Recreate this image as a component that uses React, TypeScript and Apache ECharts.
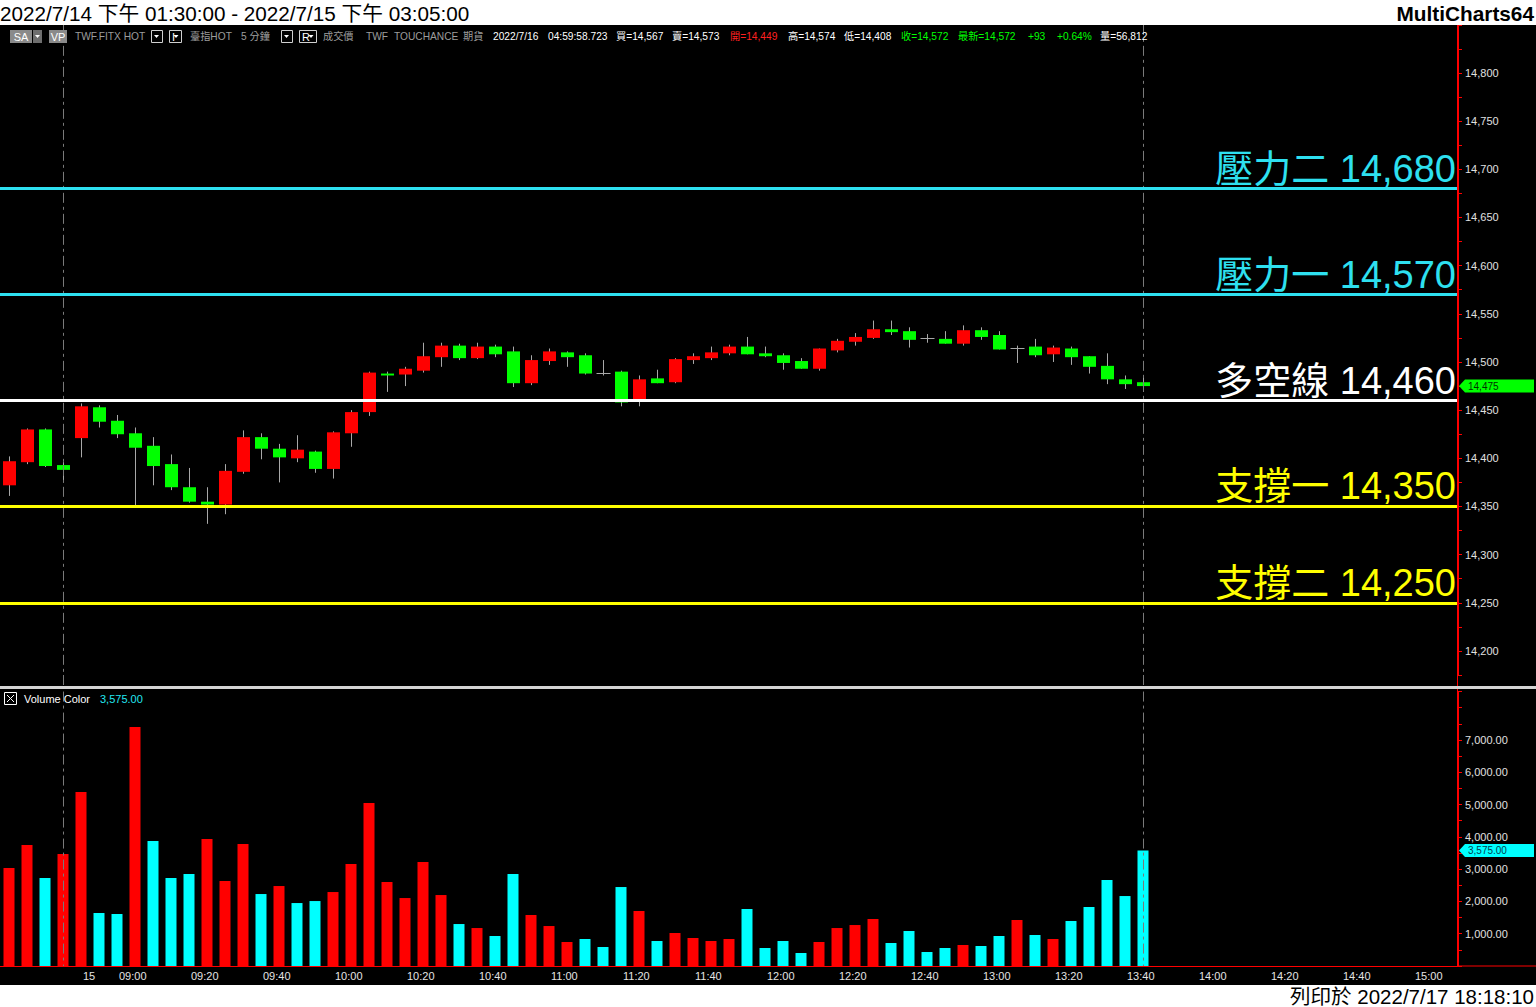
import React, { useEffect, useRef } from "react";
import * as echarts from "echarts";

// ---------- DATA ----------
const categories = [
  "7/14 13:30", "7/14 13:35", "7/14 13:40", "7/14 13:45",
  "08:50", "08:55",
  "09:00", "09:05", "09:10", "09:15", "09:20", "09:25", "09:30", "09:35", "09:40", "09:45", "09:50", "09:55",
  "10:00", "10:05", "10:10", "10:15", "10:20", "10:25", "10:30", "10:35", "10:40", "10:45", "10:50", "10:55",
  "11:00", "11:05", "11:10", "11:15", "11:20", "11:25", "11:30", "11:35", "11:40", "11:45", "11:50", "11:55",
  "12:00", "12:05", "12:10", "12:15", "12:20", "12:25", "12:30", "12:35", "12:40", "12:45", "12:50", "12:55",
  "13:00", "13:05", "13:10", "13:15", "13:20", "13:25", "13:30", "13:35", "13:40", "13:45", "13:50", "13:55",
  "14:00", "14:05", "14:10", "14:15", "14:20", "14:25", "14:30", "14:35", "14:40", "14:45", "14:50", "14:55",
  "15:00", "15:05", "15:10",
];

const opens = [
  14372, 14396, 14430, 14393, 14421, 14453, 14439, 14426, 14413, 14394, 14370, 14355, 14352, 14386, 14422, 14410,
  14400, 14407, 14389, 14426, 14448, 14488, 14487, 14491, 14505, 14517, 14504, 14516, 14511, 14478, 14501, 14510,
  14507, 14489, 14490, 14459, 14483, 14479, 14502, 14504, 14509, 14516, 14509, 14507, 14501, 14493, 14512, 14521,
  14525, 14534, 14532, 14525, 14524, 14519, 14533, 14528, 14515, 14516, 14508, 14514, 14506, 14496, 14482, 14479,
];
const closes = [
  14397, 14430, 14392, 14388, 14454, 14438, 14425, 14411, 14392, 14370, 14355, 14352, 14387, 14422, 14410, 14401,
  14409, 14389, 14427, 14448, 14489, 14486, 14493, 14506, 14517, 14504, 14516, 14508, 14478, 14502, 14511, 14505,
  14488, 14489, 14458, 14482, 14478, 14503, 14506, 14510, 14516, 14508, 14506, 14499, 14493, 14514, 14522, 14526,
  14534, 14531, 14523, 14525, 14519, 14533, 14526, 14513, 14515, 14507, 14515, 14505, 14495, 14482, 14477, 14475,
];
const highs = [
  14402, 14431, 14431, 14396, 14457, 14455, 14445, 14432, 14422, 14404, 14390, 14370, 14394, 14429, 14426, 14415,
  14424, 14408, 14428, 14450, 14490, 14490, 14495, 14520, 14520, 14519, 14520, 14518, 14516, 14507, 14514, 14511,
  14509, 14502, 14491, 14486, 14492, 14504, 14509, 14516, 14518, 14526, 14516, 14509, 14504, 14514, 14524, 14530,
  14543, 14543, 14536, 14529, 14532, 14538, 14536, 14532, 14517, 14524, 14517, 14516, 14506, 14509, 14486, 14486,
];
const lows = [
  14361, 14394, 14391, 14375, 14401, 14432, 14421, 14350, 14372, 14367, 14354, 14332, 14342, 14384, 14399, 14375,
  14396, 14385, 14379, 14412, 14444, 14469, 14475, 14489, 14495, 14502, 14503, 14505, 14474, 14476, 14497, 14495,
  14487, 14486, 14454, 14454, 14478, 14478, 14498, 14502, 14507, 14508, 14505, 14492, 14493, 14491, 14510, 14517,
  14524, 14528, 14515, 14520, 14519, 14517, 14523, 14513, 14499, 14505, 14500, 14497, 14488, 14477, 14472, 14469,
];

const volumes = [
  3034, 3746, 2724, 3467, 5387, 1641, 1610, 7399, 3870, 2724, 2848, 3932, 2632, 3777, 2229, 2477,
  1950, 2012, 2291, 3158, 5046, 2601, 2105, 3220, 2198, 1300, 1176, 929, 2848, 1579, 1238, 743,
  836, 588, 2446, 1703, 774, 1022, 867, 774, 836, 1765, 557, 774, 402, 743, 1176, 1269,
  1455, 712, 1084, 433, 557, 650, 619, 929, 1424, 960, 836, 1393, 1827, 2663, 2167, 3575,
];
// "r" = red volume bar, "c" = cyan volume bar
const volumeColors = [
  "r", "r", "c", "r", "r", "c", "c", "r", "c", "c", "c", "r", "r", "r", "c", "r",
  "c", "c", "r", "r", "r", "r", "r", "r", "r", "c", "r", "c", "c", "r", "r", "r",
  "c", "c", "c", "r", "c", "r", "r", "r", "r", "c", "c", "c", "c", "r", "r", "r",
  "r", "c", "c", "c", "c", "r", "c", "c", "r", "c", "r", "c", "c", "c", "c", "c",
];

const levelNames = ["壓力二", "壓力一", "多空線", "支撐一", "支撐二"];
const levelValues = [14680, 14570, 14460, 14350, 14250];
const levelColors = ["#2ee0f0", "#2ee0f0", "#ffffff", "#ffff00", "#ffff00"];

const dayBreakCategory = "08:50";
const dayBreakLabel = "15";
const tickTimes = [
  "09:00", "09:20", "09:40", "10:00", "10:20", "10:40", "11:00", "11:20", "11:40", "12:00",
  "12:20", "12:40", "13:00", "13:20", "13:40", "14:00", "14:20", "14:40", "15:00",
];
const sessionBreaks = ["7/14 13:45", "13:45"];

const lastPrice = 14475;
const lastVolume = 3575;

const titleText = "2022/7/14 下午 01:30:00 - 2022/7/15 下午 03:05:00";
const printText = "列印於 2022/7/17 18:18:10";

const GRAY = "#9c9c9c";
const WHITE = "#ffffff";
const RED = "#ff2020";
const GREEN = "#00ff00";
const infoTexts: [string, number, string][] = [
  ["TWF.FITX HOT", 75, GRAY],
  ["臺指HOT", 190, GRAY],
  ["5 分鐘", 241, GRAY],
  ["成交價", 323, GRAY],
  ["TWF", 366, GRAY],
  ["TOUCHANCE", 394, GRAY],
  ["期貨", 463, GRAY],
  ["2022/7/16", 493, WHITE],
  ["04:59:58.723", 548, WHITE],
  ["買=14,567", 616, WHITE],
  ["賣=14,573", 672, WHITE],
  ["開=14,449", 730, RED],
  ["高=14,574", 788, WHITE],
  ["低=14,408", 844, WHITE],
  ["收=14,572", 901, GREEN],
  ["最新=14,572", 958, GREEN],
  ["+93", 1028, GREEN],
  ["+0.64%", 1057, GREEN],
  ["量=56,812", 1100, WHITE],
];

// ---------- HELPERS ----------
const FONT = "'Liberation Sans', Arial, 'Noto Sans CJK TC', sans-serif";
const fmt = (v: number) => String(v).replace(/\B(?=(\d{3})+(?!\d))/g, ",");
const fmt2 = (v: number) => fmt(v) + ".00";

function buildGraphics() {
  const g: any[] = [];
  g.push({ type: "rect", z: 100, shape: { x: 0, y: 0, width: 1536, height: 25 }, style: { fill: "#ffffff" } });
  g.push({ type: "rect", z: 100, shape: { x: 0, y: 985, width: 1536, height: 22 }, style: { fill: "#ffffff" } });
  g.push({
    type: "text", z: 101,
    style: { text: titleText, x: 0, y: 13, fill: "#000", font: `20.7px ${FONT}`, textVerticalAlign: "middle" },
  });
  g.push({
    type: "text", z: 101,
    style: { text: "MultiCharts64", x: 1534, y: 13, fill: "#000", font: `bold 20.8px ${FONT}`, textAlign: "right", textVerticalAlign: "middle" },
  });
  g.push({
    type: "text", z: 101,
    style: { text: printText, x: 1534, y: 996, fill: "#000", font: `20.5px ${FONT}`, textAlign: "right", textVerticalAlign: "middle" },
  });
  g.push({ type: "rect", z: 100, shape: { x: 0, y: 686, width: 1536, height: 3 }, style: { fill: "#d4d4d4" } });
  g.push({ type: "line", z: 50, shape: { x1: 1457.5, y1: 25, x2: 1457.5, y2: 966 }, style: { stroke: "#ff0000", lineWidth: 1 } });
  g.push({ type: "line", z: 50, shape: { x1: 1458, y1: 966, x2: 1536, y2: 966 }, style: { stroke: "#ff0000", lineWidth: 1 } });
  // continuation of the dashed session-break lines down to the pane separator
  g.push({ type: "line", z: 1, shape: { x1: 63.5, y1: 675, x2: 63.5, y2: 686 }, style: { stroke: "#7a7a7a", lineWidth: 1, lineDash: [10, 4, 3, 4] } });
  g.push({ type: "line", z: 1, shape: { x1: 1143.5, y1: 675, x2: 1143.5, y2: 686 }, style: { stroke: "#7a7a7a", lineWidth: 1, lineDash: [10, 4, 3, 4] } });

  const boxY = 30, boxH = 13;
  g.push({ type: "rect", z: 60, shape: { x: 10, y: boxY, width: 22, height: boxH }, style: { fill: "#8a8a8a" } });
  g.push({ type: "rect", z: 60, shape: { x: 33, y: boxY, width: 9, height: boxH }, style: { fill: "#6e6e6e" } });
  g.push({ type: "polygon", z: 61, shape: { points: [[35, 35], [40, 35], [37.5, 38]] }, style: { fill: "#fff" } });
  g.push({ type: "text", z: 61, style: { text: "SA", x: 21, y: 36.5, fill: "#fff", font: `11px ${FONT}`, textAlign: "center", textVerticalAlign: "middle" } });
  g.push({ type: "rect", z: 60, shape: { x: 49, y: boxY, width: 18, height: boxH }, style: { fill: "#8a8a8a" } });
  g.push({ type: "text", z: 61, style: { text: "VP", x: 58, y: 36.5, fill: "#fff", font: `11px ${FONT}`, textAlign: "center", textVerticalAlign: "middle" } });
  const dropBoxes: [number, number, string][] = [[151, 11, ""], [169, 12, "I"], [281, 11, ""], [299, 17, "R"]];
  dropBoxes.forEach(([x, w, t]) => {
    g.push({ type: "rect", z: 60, shape: { x: x + 0.5, y: boxY + 0.5, width: w, height: boxH - 1 }, style: { fill: "#000", stroke: "#d0d0d0", lineWidth: 1 } });
    const ax = t ? x + w - 5 : x + w / 2;
    g.push({ type: "polygon", z: 61, shape: { points: [[ax - 2.5, 35], [ax + 2.5, 35], [ax, 38]] }, style: { fill: "#fff" } });
    if (t) g.push({ type: "text", z: 61, style: { text: t, x: x + 3, y: 36.5, fill: "#fff", font: `11px ${FONT}`, textVerticalAlign: "middle" } });
  });
  infoTexts.forEach(([t, x, c]) => {
    g.push({ type: "text", z: 61, style: { text: t, x, y: 36.5, fill: c, font: `10.2px ${FONT}`, textVerticalAlign: "middle" } });
  });

  g.push({ type: "rect", z: 60, shape: { x: 4.5, y: 692.5, width: 12, height: 12 }, style: { fill: "#000", stroke: "#ffffff", lineWidth: 1 } });
  g.push({ type: "line", z: 61, shape: { x1: 7, y1: 695, x2: 14, y2: 702 }, style: { stroke: "#ffffff", lineWidth: 1 } });
  g.push({ type: "line", z: 61, shape: { x1: 14, y1: 695, x2: 7, y2: 702 }, style: { stroke: "#ffffff", lineWidth: 1 } });
  g.push({ type: "text", z: 61, style: { text: "Volume Color", x: 24, y: 699, fill: "#ffffff", font: `11px ${FONT}`, textVerticalAlign: "middle" } });
  g.push({ type: "text", z: 61, style: { text: fmt2(lastVolume), x: 100, y: 699, fill: "#22e6f0", font: `11px ${FONT}`, textVerticalAlign: "middle" } });
  return g;
}

export default function App() {
  const ref = useRef<HTMLDivElement>(null);

  useEffect(() => {
    if (!ref.current) return;
    const chart = echarts.init(ref.current, undefined, { renderer: "svg" });

    const candleData = opens.map((o, i) => [i, o, closes[i], lows[i], highs[i]]);
    const volumeData = volumes.map((v, i) => ({
      value: v,
      itemStyle: { color: volumeColors[i] === "r" ? "#ff0000" : "#00ffff" },
    }));

    const tagPath = "path://M0,6.5 L6,0 L75,0 L75,13 L6,13 Z";

    const option: any = {
      animation: false,
      backgroundColor: "#000000",
      textStyle: { fontFamily: FONT },
      grid: [
        { left: 0, top: 24.83, width: 1458, height: 650.25 },
        { left: 0, top: 691.57, width: 1458, height: 274.43 },
      ],
      xAxis: [
        { type: "category", gridIndex: 0, data: categories, show: false },
        {
          type: "category",
          gridIndex: 1,
          data: categories,
          axisLine: { lineStyle: { color: "#ff0000", width: 1 } },
          axisTick: {
            alignWithLabel: true,
            length: 3,
            lineStyle: { color: "#ff0000" },
            interval: (i: number, v: string) => v === dayBreakCategory || tickTimes.includes(v),
          },
          axisLabel: {
            interval: (i: number, v: string) => v === dayBreakCategory || tickTimes.includes(v),
            formatter: (v: string) => (v === dayBreakCategory ? dayBreakLabel : v),
            color: "#e4e4e4",
            fontSize: 11,
            fontFamily: FONT,
            align: "left",
            padding: [0, 0, 0, 2],
            margin: 4,
          },
          splitLine: { show: false },
        },
      ],
      yAxis: [
        {
          type: "value",
          gridIndex: 0,
          position: "right",
          min: 14175,
          max: 14850,
          interval: 25,
          axisLine: { show: true, lineStyle: { color: "#ff0000" } },
          axisTick: { show: true, length: 4, lineStyle: { color: "#ff0000" } },
          axisLabel: {
            color: "#e0e0e0",
            fontSize: 11,
            fontFamily: FONT,
            margin: 7,
            formatter: (v: number) => (v % 50 === 0 && v >= 14200 && v <= 14800 ? fmt(v) : ""),
          },
          splitLine: { show: false },
        },
        {
          type: "value",
          gridIndex: 1,
          position: "right",
          min: 0,
          max: 8500,
          interval: 500,
          axisLine: { show: true, lineStyle: { color: "#ff0000" } },
          axisTick: { show: true, length: 4, lineStyle: { color: "#ff0000" } },
          axisLabel: {
            color: "#e0e0e0",
            fontSize: 11,
            fontFamily: FONT,
            margin: 7,
            formatter: (v: number) => (v % 1000 === 0 && v > 0 && v <= 7000 ? fmt2(v) : ""),
          },
          splitLine: { show: false },
        },
      ],
      graphic: buildGraphics(),
      series: [
        {
          type: "line",
          xAxisIndex: 0,
          yAxisIndex: 0,
          data: [],
          z: 1,
          silent: true,
          markLine: {
            symbol: ["none", "none"],
            silent: true,
            label: { show: false },
            lineStyle: { color: "#7a7a7a", width: 1, type: [10, 4, 3, 4] },
            data: sessionBreaks.map((c) => [{ coord: [c, 14850] }, { coord: [c, 14175] }]),
          },
        },
        {
          type: "line",
          xAxisIndex: 1,
          yAxisIndex: 1,
          data: [],
          z: 1,
          silent: true,
          markLine: {
            symbol: ["none", "none"],
            silent: true,
            label: { show: false },
            lineStyle: { color: "#7a7a7a", width: 1, type: [10, 4, 3, 4] },
            data: sessionBreaks.map((c) => [{ coord: [c, 8500] }, { coord: [c, 0] }]),
          },
        },
        {
          type: "custom",
          xAxisIndex: 0,
          yAxisIndex: 0,
          z: 3,
          data: candleData,
          encode: { x: 0, y: [1, 2, 3, 4] },
          renderItem: (params: any, api: any) => {
            const idx = api.value(0);
            const o = api.value(1);
            const c = api.value(2);
            const l = api.value(3);
            const h = api.value(4);
            const top = api.coord([idx, Math.max(o, c)]);
            const bot = api.coord([idx, Math.min(o, c)]);
            const hi = api.coord([idx, h]);
            const lo = api.coord([idx, l]);
            const cx = Math.round(top[0]);
            const children: any[] = [
              {
                type: "line",
                shape: { x1: cx + 0.5, y1: hi[1], x2: cx + 0.5, y2: lo[1] },
                style: { stroke: "#a8a8a8", lineWidth: 1 },
              },
            ];
            if (o === c) {
              children.push({
                type: "line",
                shape: { x1: cx - 6.5, y1: Math.round(top[1]) + 0.5, x2: cx + 7.5, y2: Math.round(top[1]) + 0.5 },
                style: { stroke: "#a8a8a8", lineWidth: 1 },
              });
            } else {
              children.push({
                type: "rect",
                shape: { x: cx - 6, y: top[1], width: 13, height: Math.max(1, bot[1] - top[1]) },
                style: { fill: c > o ? "#ff0000" : "#00ff00" },
              });
            }
            return { type: "group", children };
          },
          markLine: {
            symbol: ["none", "none"],
            silent: true,
            data: levelValues.map((v, i) => ({
              yAxis: v,
              lineStyle: { color: levelColors[i], width: 3, type: "solid" },
              label: {
                show: true,
                position: "insideEndTop",
                formatter: `${levelNames[i]} ${fmt(v)}`,
                color: levelColors[i],
                fontSize: 38,
                fontFamily: FONT,
                distance: [2, 1],
              },
            })),
          },
          markPoint: {
            silent: true,
            symbol: tagPath,
            symbolSize: [75, 13],
            symbolOffset: [47.5, 0],
            itemStyle: { color: "#00ff00" },
            label: {
              show: true,
              position: [9, 6.5],
              align: "left",
              verticalAlign: "middle",
              color: "#003000",
              fontSize: 10,
              fontFamily: FONT,
              formatter: () => fmt(lastPrice),
            },
            data: [{ coord: [categories[80], lastPrice], value: lastPrice }],
          },
        },
        {
          type: "bar",
          xAxisIndex: 1,
          yAxisIndex: 1,
          z: 3,
          barWidth: 11,
          data: volumeData,
          markPoint: {
            silent: true,
            symbol: tagPath,
            symbolSize: [75, 13],
            symbolOffset: [47.5, 0],
            itemStyle: { color: "#00ffff" },
            label: {
              show: true,
              position: [9, 6.5],
              align: "left",
              verticalAlign: "middle",
              color: "#004050",
              fontSize: 10,
              fontFamily: FONT,
              formatter: () => fmt2(lastVolume),
            },
            data: [{ coord: [categories[80], lastVolume], value: lastVolume }],
          },
        },
      ],
    };

    chart.setOption(option);
    return () => chart.dispose();
  }, []);

  return (
    <div
      ref={ref}
      style={{ position: "fixed", left: 0, top: 0, width: 1536, height: 1007 }}
    />
  );
}
